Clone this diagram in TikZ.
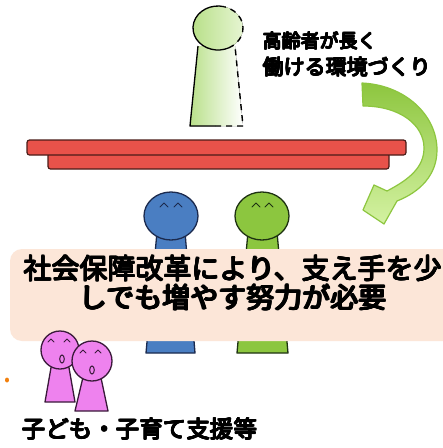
\documentclass[tikz,border=0pt]{standalone}
\usepackage{fontspec}
\newfontfamily\jp{Noto Sans CJK JP}
% heavier glyphs: the text is laid over itself with small shifts
\newdimen\heavyd
\newdimen\heavye
\newcommand\heavytext[2]{%
  \heavyd=#1\relax\heavye=0.7\heavyd
  \rlap{\kern\heavyd#2}\rlap{\kern-\heavyd#2}%
  \rlap{\raisebox{\heavyd}{#2}}\rlap{\raisebox{-\heavyd}{#2}}%
  \rlap{\kern\heavye\raisebox{\heavye}{#2}}\rlap{\kern-\heavye\raisebox{\heavye}{#2}}%
  \rlap{\kern\heavye\raisebox{-\heavye}{#2}}\rlap{\kern-\heavye\raisebox{-\heavye}{#2}}%
  #2}
\definecolor{barred}{HTML}{E8524A}
\definecolor{barline}{HTML}{4A1C18}
\definecolor{peach}{HTML}{FCE6D8}
\definecolor{bluefig}{HTML}{4A7EC2}
\definecolor{bluedark}{HTML}{1B2A4E}
\definecolor{greenfig}{HTML}{8CC63F}
\definecolor{greendark}{HTML}{1E3212}
\definecolor{pinkfig}{HTML}{EE82EE}
\definecolor{pinkdark}{HTML}{3A1A3A}
\definecolor{eldA}{HTML}{B9E08A}
\definecolor{eldB}{HTML}{E6F5D2}
\definecolor{arrowA}{HTML}{8DC63F}
\definecolor{arrowB}{HTML}{D4F2A2}
\tikzset{
  outline/.style={line width=1.3pt, line join=round},
  ghost/.style={line width=1.4pt, dash pattern=on 6pt off 5pt},
  eyes/.style={line width=0.9pt, line cap=round, line join=round},
  barbox/.style={fill=barred, draw=barline, line width=1.2pt, rounded corners=2.5pt},
  jptext/.style={inner sep=0pt, text=black},
}
\begin{document}
\begin{tikzpicture}[x=1pt,y=-1pt]
\useasboundingbox (0,0) rectangle (443,448);
\clip (0,0) rectangle (443,448);
\fill[white] (0,0) rectangle (443,448);

% elderly worker, partly drawn in dashes
\fill[left color=eldA, right color=white] (198,46) -- (190,126) -- (243,126) -- (235,46) -- cycle;
\draw[outline] (198,46) -- (190,126) -- (215,126);
\draw[ghost] (215,126) -- (243,126) -- (235,46);
\fill[left color=eldA, right color=eldB] (218,28) ellipse [x radius=25pt, y radius=22pt];
\draw[outline] ([shift={(75:25pt and 22pt)}]218,28) arc[start angle=75, end angle=295, x radius=25pt, y radius=22pt];
\draw[ghost] ([shift={(-65:25pt and 22pt)}]218,28) arc[start angle=-65, end angle=75, x radius=25pt, y radius=22pt];
\coordinate (elder) at (218,28);

\node[jptext, anchor=west, font=\jp\fontsize{19}{20}\selectfont] (goal1) at (263,41) {\heavytext{0.55pt}{高齢者が長く}};
\node[jptext, anchor=west, font=\jp\fontsize{21}{22}\selectfont] (goal2) at (263,67) {\heavytext{0.55pt}{働ける環境づくり}};

% curved green arrow
\shade[top color=arrowA, bottom color=arrowB, draw=arrowA, line width=1.2pt, line join=round]
  (362,83) .. controls (405,85) and (437,115) .. (437,150)
  .. controls (437,175) and (420,192) .. (397,201)
  -- (384,224) -- (363,210) -- (374,185) -- (387,191)
  .. controls (408,180) and (424,168) .. (424,148)
  .. controls (424,125) and (400,106) .. (363,106) -- cycle;
\coordinate (arrowtip) at (363,210);

% red bars
\draw[barbox] (48,153) rectangle (389,169);
\draw[barbox] (27,140) rectangle (406,155);
\node[inner sep=0pt] (bars) at (216,154) {};

% blue and green workers
\draw[outline, draw=bluedark, fill=bluefig] (157,232) -- (146,353) -- (195,353) -- (185,232) -- cycle;
\draw[outline, draw=bluedark, fill=bluefig] (171,216) ellipse [x radius=27pt, y radius=24pt];
\draw[eyes, draw=bluedark] (160,207) -- (164,203) -- (168,207) (174,207) -- (178,203) -- (182,207);
\coordinate (bluefigure) at (171,216);

\draw[outline, draw=greendark, fill=greenfig] (248,232) -- (237,353) -- (288,353) -- (277,232) -- cycle;
\draw[outline, draw=greendark, fill=greenfig] (262,216) ellipse [x radius=27pt, y radius=24pt];
\draw[eyes, draw=greendark] (252,207) -- (256,203) -- (260,207) (265,207) -- (269,203) -- (273,207);
\coordinate (greenfigure) at (262,216);

% message panel
\fill[peach] (10,249) [rounded corners=12pt] rectangle (460,341);
\node[jptext, align=center, font=\jp\fontsize{28}{29}\selectfont] (msg) at (233,283)
  {\heavytext{0.8pt}{社会保障改革により、支え手を少}\\\heavytext{0.8pt}{しでも増やす努力が必要}};

% children
\draw[outline, draw=pinkdark, fill=pinkfig] (52,362) -- (45,402) -- (75,402) -- (68,362) -- cycle;
\draw[outline, draw=pinkdark, fill=pinkfig] (60,350) circle [radius=19pt];
\draw[eyes, draw=pinkdark] (48,342) -- (51,339) -- (54,342) (64,342) -- (67,339) -- (70,342);
\draw[line width=1pt, draw=pinkdark] (62,359) ellipse [x radius=2.3pt, y radius=4pt];

\draw[outline, draw=pinkdark, fill=pinkfig] (84,373) -- (75,411) -- (108,411) -- (100,373) -- cycle;
\draw[outline, draw=pinkdark, fill=pinkfig] (92,361) circle [radius=20pt];
\draw[eyes, draw=pinkdark] (80,353) -- (83,350) -- (86,353) (95,353) -- (98,350) -- (101,353);
\draw[line width=1pt, draw=pinkdark] (92,370) ellipse [x radius=2.3pt, y radius=4pt];
\coordinate (children) at (76,360);

\fill[orange!80!brown] (7,380) ellipse [x radius=2pt, y radius=2.5pt];

\node[jptext, anchor=west, font=\jp\fontsize{23.5}{24}\selectfont] (kids) at (22,429) {\heavytext{0.6pt}{子ども・子育て支援等}};
\end{tikzpicture}
\end{document}
